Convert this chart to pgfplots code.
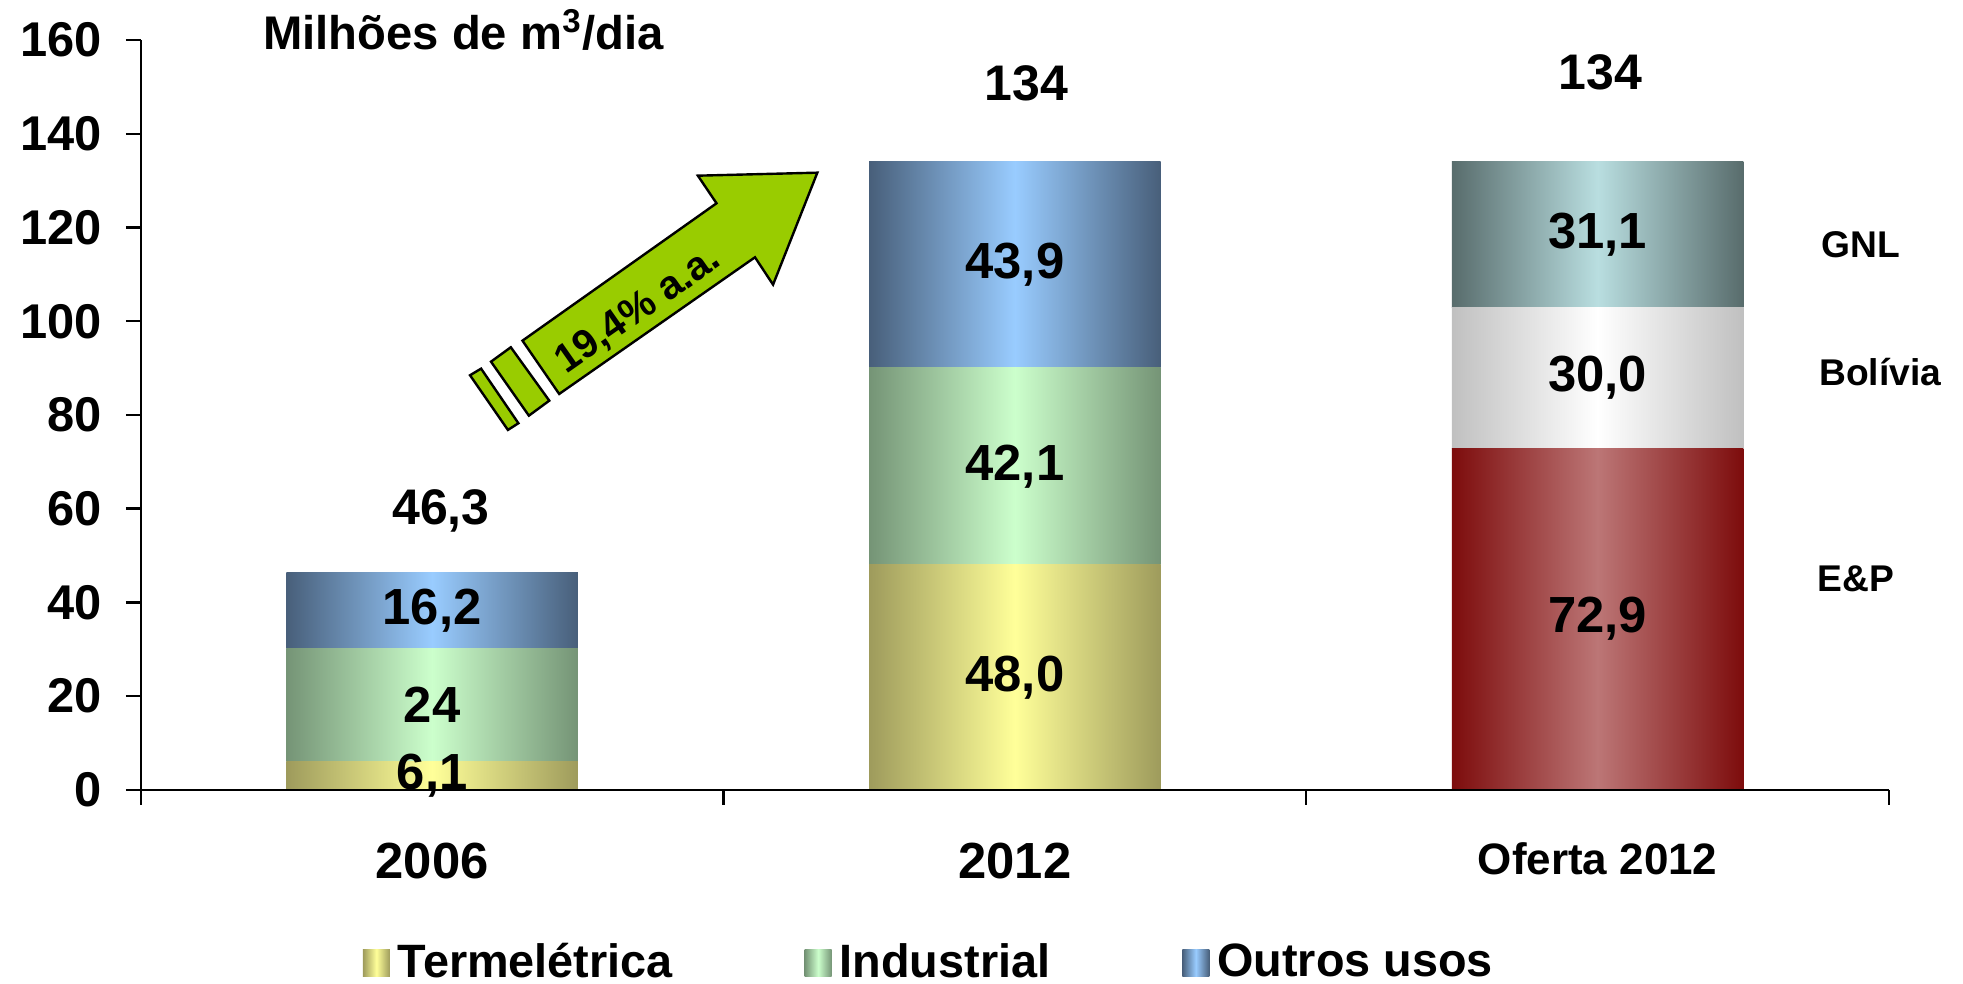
\documentclass[border=0pt]{standalone}
\usepackage{fontspec}
\setmainfont{Liberation Sans}
\usepackage{pgfplots}
\usepackage{pgfplotstable}
\pgfplotsset{compat=1.18}

% edge / centre colours of the shaded bars
\definecolor{termE}{RGB}{158,155,92}
\definecolor{termC}{RGB}{255,255,153}
\definecolor{indE}{RGB}{117,148,118}
\definecolor{indC}{RGB}{204,255,204}
\definecolor{outE}{RGB}{72,95,122}
\definecolor{outC}{RGB}{153,204,255}
\definecolor{epE}{RGB}{125,12,12}
\definecolor{epC}{RGB}{188,118,118}
\definecolor{bolE}{RGB}{192,192,192}
\definecolor{bolC}{RGB}{255,255,255}
\definecolor{gnlE}{RGB}{88,108,108}
\definecolor{gnlC}{RGB}{185,222,224}
\definecolor{seta}{RGB}{153,204,0}

\newcommand\fs[1]{\fontsize{#1}{#1}\selectfont\bfseries}

% demand 2006 and 2012, supply 2012 (millions of m3/day)
\pgfplotstableread{
x term ind out
0 6.1 24 16.2
}\dema
\pgfplotstableread{
x term ind out
1 48.0 42.1 43.9
}\demb
\pgfplotstableread{
x ep bol gnl
2 72.9 30.0 31.1
}\oferta

\tikzset{hshade/.style 2 args={left color=#1, right color=#1, middle color=#2, draw=none}}
\pgfplotsset{base/.style={scale only axis, width=437.1pt, height=187.5pt,
  xmin=-0.5, xmax=2.5, ymin=0, ymax=160, clip=false},
  bars/.style={base, hide axis, ybar stacked, bar width=0.5}}

\begin{document}
\begin{tikzpicture}
\useasboundingbox (-35.2pt,-48.5pt) rectangle (455.6pt,197.5pt);

% one axis per column, so that each bar gets its own shading
\begin{axis}[bars]
\addplot[hshade={epE}{epC}] table[x=x,y=ep]{\oferta};
\addplot[hshade={bolE}{bolC}] table[x=x,y=bol]{\oferta};
\addplot[hshade={gnlE}{gnlC}] table[x=x,y=gnl]{\oferta};
\end{axis}
\begin{axis}[bars]
\addplot[hshade={termE}{termC}] table[x=x,y=term]{\dema};
\addplot[hshade={indE}{indC}] table[x=x,y=ind]{\dema};
\addplot[hshade={outE}{outC}] table[x=x,y=out]{\dema};
\end{axis}
\begin{axis}[bars]
\addplot[hshade={termE}{termC}] table[x=x,y=term]{\demb};
\addplot[hshade={indE}{indC}] table[x=x,y=ind]{\demb};
\addplot[hshade={outE}{outC}] table[x=x,y=out]{\demb};
\end{axis}

% axis lines, ticks, legend, arrow
\begin{axis}[base,
  axis x line*=bottom, axis y line*=left,
  axis line style={line width=0.6pt},
  tick align=outside, major tick length=3.75pt, minor tick length=3.75pt,
  tick style={line width=0.6pt, black},
  ytick={0,20,...,160},
  xtick={0,1,2},
  xticklabels={2006,2012,{\raisebox{2.7pt}{\fs{11}Oferta 2012}}},
  minor xtick={-0.5,0.5,1.5,2.5},
  major x tick style={draw=none},
  yticklabel style={font=\fs{12.2}, xshift=-2.4pt},
  xticklabel style={font=\fs{12.7}, yshift=-6pt},
  /pgf/number format/assume math mode=true,
  legend image code/.code={\path[#1] (0pt,-3.375pt) rectangle (6.75pt,3.375pt);},
  legend style={at={(0.1266,-0.2313)}, anchor=west, draw=none, fill=none,
    inner sep=0pt, font=\fs{11.7}, legend columns=3,
    /tikz/every even column/.append style={column sep=31pt}},
]
\addlegendimage{hshade={termE}{termC}}
\addlegendentry{Termelétrica}
\addlegendimage{hshade={indE}{indC}}
\addlegendentry{Industrial}
\addlegendimage{hshade={outE}{outC}}
\addlegendentry{Outros usos}

% growth arrow
\draw[fill=seta, line width=0.6pt, line join=miter]
  (axis cs:0.661,131.69) -- (axis cs:0.456,131.05) -- (axis cs:0.488,125.16)
  -- (axis cs:0.155,95.85) -- (axis cs:0.218,84.48) -- (axis cs:0.554,113.64)
  -- (axis cs:0.585,107.80) -- cycle;
\draw[fill=seta, line width=0.6pt]
  (axis cs:0.101,91.37) -- (axis cs:0.135,94.44) -- (axis cs:0.201,83.05)
  -- (axis cs:0.166,79.85) -- cycle;
\draw[fill=seta, line width=0.6pt]
  (axis cs:0.065,88.47) -- (axis cs:0.084,89.88) -- (axis cs:0.148,78.23)
  -- (axis cs:0.130,76.80) -- cycle;
\end{axis}

% texts on top
\begin{axis}[base, hide axis]
\node[font=\fs{12.7}] at (axis cs:0,3.05) {6,1};
\node[font=\fs{12.7}] at (axis cs:0,18.1) {24};
\node[font=\fs{12.7}] at (axis cs:0,38.2) {16,2};
\node[font=\fs{12.7}] at (axis cs:1,24) {48,0};
\node[font=\fs{12.7}] at (axis cs:1,69.05) {42,1};
\node[font=\fs{12.7}] at (axis cs:1,112.05) {43,9};
\node[font=\fs{12.7}] at (axis cs:2,36.45) {72,9};
\node[font=\fs{12.7}] at (axis cs:2,87.9) {30,0};
\node[font=\fs{12.7}] at (axis cs:2,118.45) {31,1};
% totals
\node[font=\fs{12.5}] at (axis cs:0.015,59.6) {46,3};
\node[font=\fs{12.5}] at (axis cs:1.02,150.8) {134};
\node[font=\fs{12.5}] at (axis cs:2.005,153) {134};
% supply sources
\node[font=\fs{9.3}, anchor=west, inner sep=0pt] at (axis cs:2.383,116.3) {GNL};
\node[font=\fs{9.3}, anchor=west, inner sep=0pt] at (axis cs:2.379,89.2) {Bolívia};
\node[font=\fs{9.3}, anchor=west, inner sep=0pt] at (axis cs:2.376,45.1) {E\&P};
% unit
\node[font=\fs{11.8}, anchor=base, inner sep=0pt] at (axis cs:0.054,157.9) {Milhões de m\textsuperscript{3}/dia};
\node[font=\fs{10}, rotate=35] at (axis cs:0.354,102.3) {19,4\% a.a.};
\end{axis}
\end{tikzpicture}
\end{document}
